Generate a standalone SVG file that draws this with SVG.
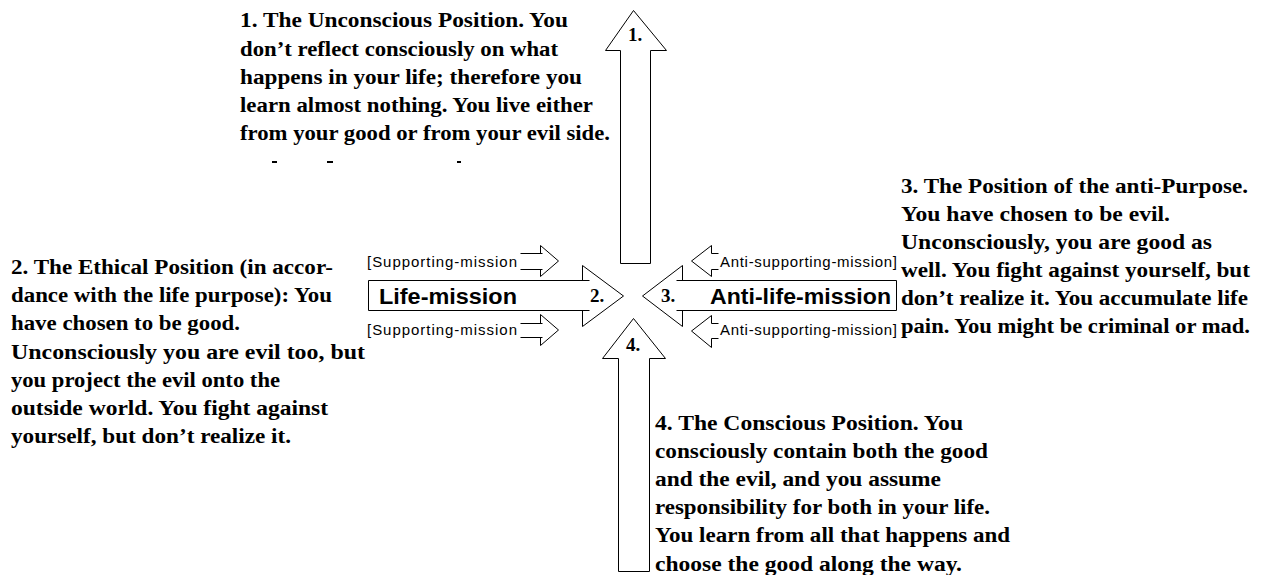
<svg xmlns="http://www.w3.org/2000/svg" width="1261" height="575" viewBox="0 0 1261 575">
<style>
.sh{fill:#fff;stroke:#000;stroke-width:1}
.ln{fill:none;stroke:#000;stroke-width:1}
.body{font-family:"Liberation Serif","Times New Roman",serif;font-weight:bold;font-size:20px;fill:#000}
.num{font-family:"Liberation Serif","Times New Roman",serif;font-weight:bold;font-size:19px;fill:#000}
.big{font-family:"Liberation Sans",Arial,sans-serif;font-weight:bold;font-size:22px;fill:#000}
.small{font-family:"Liberation Sans",Arial,sans-serif;font-size:15px;fill:#000}
</style>
<rect x="0" y="0" width="1261" height="575" fill="#fff"/>

<g id="connectors">
  <g id="supporting-upper-arrow">
    <polyline class="sh" points="540.5,253.5 540.5,245.5 558.5,261 540.5,276.5 540.5,269.5"/>
    <path class="ln" d="M520.5,253.5 H542.5 M520.5,269.5 H542.5"/>
  </g>
  <g id="supporting-lower-arrow">
    <polyline class="sh" points="540.5,323.5 540.5,314.5 558.5,330 540.5,345.5 540.5,337.5"/>
    <path class="ln" d="M520.5,323.5 H542.5 M520.5,337.5 H542.5"/>
  </g>
  <g id="anti-supporting-upper-arrow">
    <polyline class="sh" points="711.5,253.5 711.5,245.5 691.5,261 711.5,276.5 711.5,269.5"/>
    <path class="ln" d="M711.5,253.5 H718.5 M711.5,269.5 H718.5"/>
  </g>
  <g id="anti-supporting-lower-arrow">
    <polyline class="sh" points="711.5,323.5 711.5,315.5 691.5,331 711.5,347.5 711.5,338.5"/>
    <path class="ln" d="M711.5,323.5 H718.5 M711.5,338.5 H718.5"/>
  </g>
</g>

<g id="arrow-1">
  <polygon class="sh" points="620.5,263.5 620.5,50.5 605.5,50.5 633.5,10.5 666.5,50.5 650.5,50.5 650.5,263.5"/>
  <text class="num" x="628" y="41">1.</text>
</g>

<g id="arrow-2-life-mission">
  <polyline class="sh" points="582.5,280.5 582.5,265.5 623.5,296 582.5,326.5 582.5,310.5"/>
  <path class="ln" d="M589.5,280.5 H368.5 V310.5 H589.5"/>
  <text class="big" x="379" y="304" textLength="138" lengthAdjust="spacingAndGlyphs">Life-mission</text>
  <text class="num" x="590" y="302">2.</text>
</g>

<g id="arrow-3-anti-life-mission">
  <polyline class="sh" points="682.5,280.5 682.5,265.5 642.5,296 682.5,326.5 682.5,310.5"/>
  <path class="ln" d="M676.5,280.5 H896.5 V310.5 H676.5"/>
  <text class="big" x="710" y="304" textLength="181" lengthAdjust="spacingAndGlyphs">Anti-life-mission</text>
  <text class="num" x="661" y="302">3.</text>
</g>

<g id="arrow-4">
  <polygon class="sh" points="618.5,571.5 618.5,358.5 602.5,358.5 633.5,318.5 665.5,358.5 649.5,358.5 649.5,571.5"/>
  <text class="num" x="626" y="351">4.</text>
</g>

<g id="supporting-upper">
  <text class="small" x="367" y="266.5" textLength="150" lengthAdjust="spacing">[Supporting-mission</text>
</g>
<g id="supporting-lower">
  <text class="small" x="367" y="335" textLength="150" lengthAdjust="spacing">[Supporting-mission</text>
</g>
<g id="anti-supporting-upper">
  <text class="small" x="720" y="266.5" textLength="177" lengthAdjust="spacing">Anti-supporting-mission]</text>
</g>
<g id="anti-supporting-lower">
  <text class="small" x="720" y="335" textLength="177" lengthAdjust="spacing">Anti-supporting-mission]</text>
</g>

<g id="text-1">
  <text class="body" x="240" y="27.3" textLength="328" lengthAdjust="spacingAndGlyphs">1. The Unconscious Position. You</text>
  <text class="body" x="240" y="55.5" textLength="318" lengthAdjust="spacingAndGlyphs">don’t reflect consciously on what</text>
  <text class="body" x="240" y="83.7" textLength="342" lengthAdjust="spacingAndGlyphs">happens in your life; therefore you</text>
  <text class="body" x="240" y="111.9" textLength="353" lengthAdjust="spacingAndGlyphs">learn almost nothing. You live either</text>
  <text class="body" x="240" y="140" textLength="370" lengthAdjust="spacingAndGlyphs">from your good or from your evil side.</text>
  <rect x="272" y="161" width="5" height="2" fill="#000"/>
  <rect x="327" y="161" width="6" height="2" fill="#000"/>
  <rect x="457" y="161" width="4" height="2" fill="#000"/>
</g>

<g id="text-2">
  <text class="body" x="11" y="274" textLength="322" lengthAdjust="spacingAndGlyphs">2. The Ethical Position (in accor-</text>
  <text class="body" x="11" y="302.2" textLength="321" lengthAdjust="spacingAndGlyphs">dance with the life purpose): You</text>
  <text class="body" x="11" y="330.4" textLength="229" lengthAdjust="spacingAndGlyphs">have chosen to be good.</text>
  <text class="body" x="11" y="358.6" textLength="354" lengthAdjust="spacingAndGlyphs">Unconsciously you are evil too, but</text>
  <text class="body" x="11" y="386.8" textLength="269" lengthAdjust="spacingAndGlyphs">you project the evil onto the</text>
  <text class="body" x="11" y="415" textLength="317" lengthAdjust="spacingAndGlyphs">outside world. You fight against</text>
  <text class="body" x="11" y="443.2" textLength="280" lengthAdjust="spacingAndGlyphs">yourself, but don’t realize it.</text>
</g>

<g id="text-3">
  <text class="body" x="901" y="192.7" textLength="347" lengthAdjust="spacingAndGlyphs">3. The Position of the anti-Purpose.</text>
  <text class="body" x="901" y="220.8" textLength="269" lengthAdjust="spacingAndGlyphs">You have chosen to be evil.</text>
  <text class="body" x="901" y="248.9" textLength="311" lengthAdjust="spacingAndGlyphs">Unconsciously, you are good as</text>
  <text class="body" x="901" y="277" textLength="349" lengthAdjust="spacingAndGlyphs">well. You fight against yourself, but</text>
  <text class="body" x="901" y="305.1" textLength="347" lengthAdjust="spacingAndGlyphs">don’t realize it. You accumulate life</text>
  <text class="body" x="901" y="333.2" textLength="349" lengthAdjust="spacingAndGlyphs">pain. You might be criminal or mad.</text>
</g>

<g id="text-4">
  <text class="body" x="655" y="430" textLength="308" lengthAdjust="spacingAndGlyphs">4. The Conscious Position. You</text>
  <text class="body" x="655" y="458.1" textLength="333" lengthAdjust="spacingAndGlyphs">consciously contain both the good</text>
  <text class="body" x="655" y="486.2" textLength="286" lengthAdjust="spacingAndGlyphs">and the evil, and you assume</text>
  <text class="body" x="655" y="514.3" textLength="335" lengthAdjust="spacingAndGlyphs">responsibility for both in your life.</text>
  <text class="body" x="655" y="542.4" textLength="355" lengthAdjust="spacingAndGlyphs">You learn from all that happens and</text>
  <text class="body" x="655" y="570.5" textLength="307" lengthAdjust="spacingAndGlyphs">choose the good along the way.</text>
</g>
</svg>
